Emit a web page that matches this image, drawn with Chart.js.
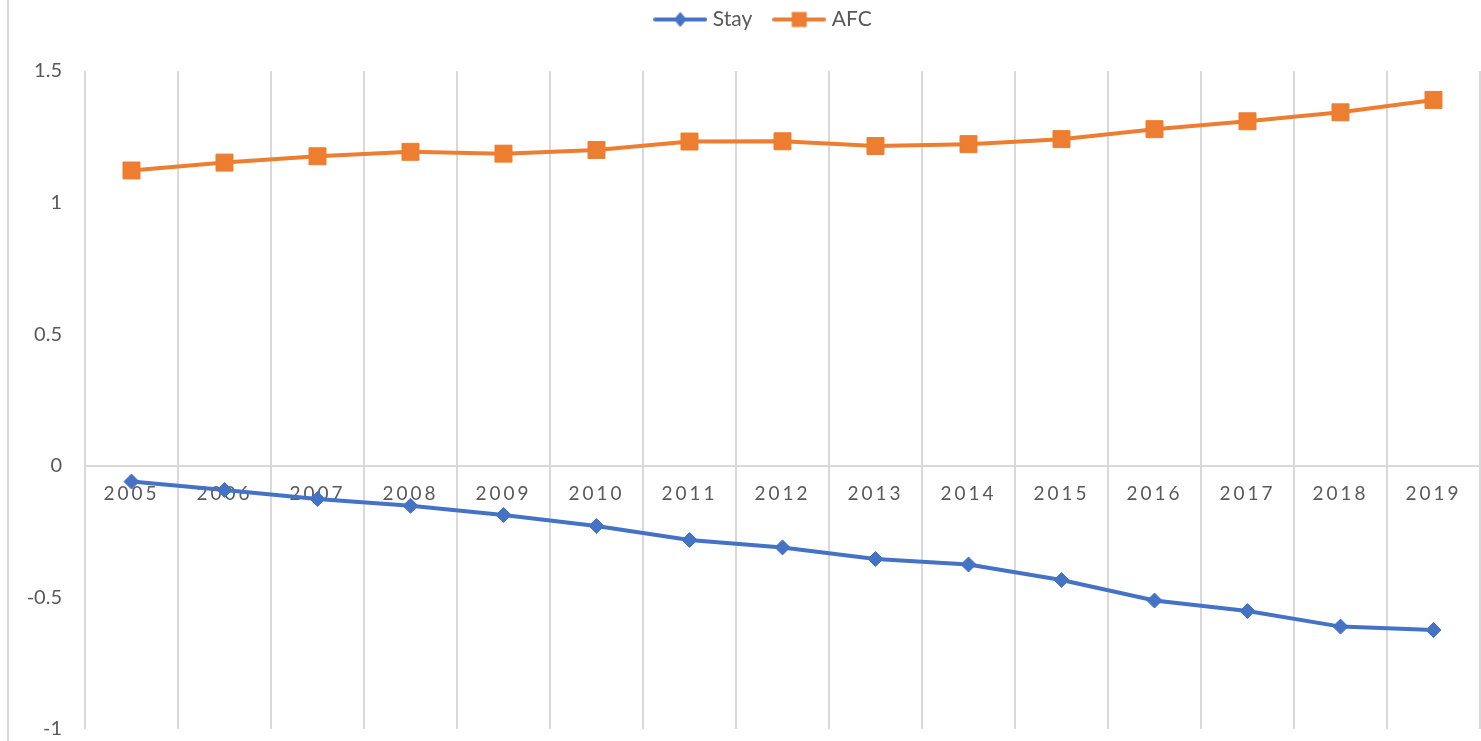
<!DOCTYPE html>
<html>
<head>
<meta charset="utf-8">
<script src="https://cdn.jsdelivr.net/npm/chart.js@4.4.1/dist/chart.umd.min.js"></script>
<style>
html,body{margin:0;padding:0;background:#fff;}
#wrap{position:relative;width:1481px;height:741px;overflow:hidden;}
#frame{position:absolute;left:7px;top:0;width:2px;height:741px;background:#D9D9D9;}
#c{position:absolute;left:0;top:0;}
</style>
</head>
<body>
<div id="wrap"><div id="frame"></div><canvas id="c" width="1481" height="741"></canvas></div>
<script>
const years = ['2005','2006','2007','2008','2009','2010','2011','2012','2013','2014','2015','2016','2017','2018','2019'];
const stayValues = [-0.060,-0.092,-0.126,-0.152,-0.187,-0.229,-0.282,-0.310,-0.354,-0.375,-0.434,-0.512,-0.552,-0.611,-0.624];
const afcValues = [1.122,1.152,1.176,1.193,1.186,1.200,1.232,1.233,1.215,1.222,1.241,1.279,1.309,1.343,1.390];
const yTicks = [-1,-0.5,0,0.5,1,1.5];
const seriesNames = ['Stay','AFC'];

const BLUE = '#4472C4', ORANGE = '#ED7D31', TEXT = '#595959', GRID = '#D9D9D9';

function legendImg(color, shape){
  const c = document.createElement('canvas');
  c.width = 54; c.height = 18;
  const g = c.getContext('2d');
  g.strokeStyle = color; g.lineWidth = 4; g.lineCap = 'round';
  g.beginPath(); g.moveTo(2,9); g.lineTo(52,9); g.stroke();
  g.fillStyle = color;
  if (shape === 'diamond') {
    g.beginPath(); g.moveTo(27,1.5); g.lineTo(33.5,9); g.lineTo(27,16.5); g.lineTo(20.5,9); g.closePath(); g.fill();
  } else {
    g.fillRect(19.5,1.5,15,15);
  }
  return c;
}
const legendImgs = [legendImg(BLUE,'diamond'), legendImg(ORANGE,'square')];

const fixPlugin = {
  id: 'fixPlugin',
  beforeLayout(chart){
    const lg = chart.legend;
    if (lg && !lg._fitPatched) {
      const orig = lg.fit;
      lg.fit = function(){ orig.call(this); this.height = 71; };
      lg._fitPatched = true;
    }
  },
  afterLayout(chart){
    const lg = chart.legend;
    if (lg) {
      lg.top = -16; lg.bottom = lg.top + lg.height;
      lg.left += 25; lg.right += 25;
    }
  },
  beforeDraw(chart){
    const s = chart.scales.x;
    if (s && !s._lsPatched) {
      const orig = s.drawLabels;
      s.drawLabels = function(a){
        const ctx = this.ctx;
        ctx.save();
        try { ctx.letterSpacing = '3px'; } catch(e) {}
        orig.call(this, a);
        ctx.restore();
      };
      s._lsPatched = true;
    }
  }
};

new Chart(document.getElementById('c'), {
  type: 'line',
  data: {
    labels: years,
    datasets: [
      { label: seriesNames[0], data: stayValues, borderColor: BLUE, backgroundColor: BLUE,
        borderWidth: 4, pointStyle: 'rectRot', pointRadius: 7.5, pointHoverRadius: 7.5,
        pointBorderWidth: 1, pointBackgroundColor: BLUE, pointBorderColor: BLUE, tension: 0 },
      { label: seriesNames[1], data: afcValues, borderColor: ORANGE, backgroundColor: ORANGE,
        borderWidth: 4, pointStyle: 'rect', pointRadius: 12, pointHoverRadius: 12,
        pointBorderWidth: 1, pointBackgroundColor: ORANGE, pointBorderColor: ORANGE, tension: 0 }
    ]
  },
  options: {
    responsive: false,
    devicePixelRatio: 1,
    animation: false,
    layout: { autoPadding: false, padding: { left: 0, right: 1, top: 0, bottom: 12 } },
    plugins: {
      tooltip: { enabled: false },
      legend: {
        position: 'top',
        labels: {
          usePointStyle: true,
          pointStyleWidth: 44,
          padding: 25,
          color: TEXT,
          font: { family: 'Lato', size: 21 },
          generateLabels(chart){
            return chart.data.datasets.map((ds,i) => ({
              text: ds.label, pointStyle: legendImgs[i], fillStyle: ds.backgroundColor,
              strokeStyle: ds.borderColor, lineWidth: 0, hidden: !chart.isDatasetVisible(i),
              datasetIndex: i, fontColor: TEXT
            }));
          }
        }
      }
    },
    scales: {
      x: {
        type: 'category',
        offset: true,
        position: { y: 0 },
        afterFit(scale){ scale.paddingLeft = 0; scale.paddingRight = 0; },
        grid: { display: true, offset: true, color: GRID, lineWidth: 2, drawTicks: false },
        border: { display: true, color: GRID, width: 2 },
        ticks: { font: { family: 'Lato', size: 19 }, color: TEXT, padding: 17, maxRotation: 0, minRotation: 0, autoSkip: false }
      },
      y: {
        min: -1, max: 1.5,
        position: 'left',
        afterBuildTicks(scale){ scale.ticks = yTicks.map(v => ({ value: v })); },
        afterFit(scale){ scale.width = 85; scale.paddingTop = 0; scale.paddingBottom = 0; },
        grid: { display: false, drawTicks: false },
        border: { display: false },
        ticks: { font: { family: 'Lato', size: 20 }, color: TEXT, padding: 23, callback: (v) => String(v) }
      }
    }
  },
  plugins: [fixPlugin]
});
</script>
</body>
</html>
